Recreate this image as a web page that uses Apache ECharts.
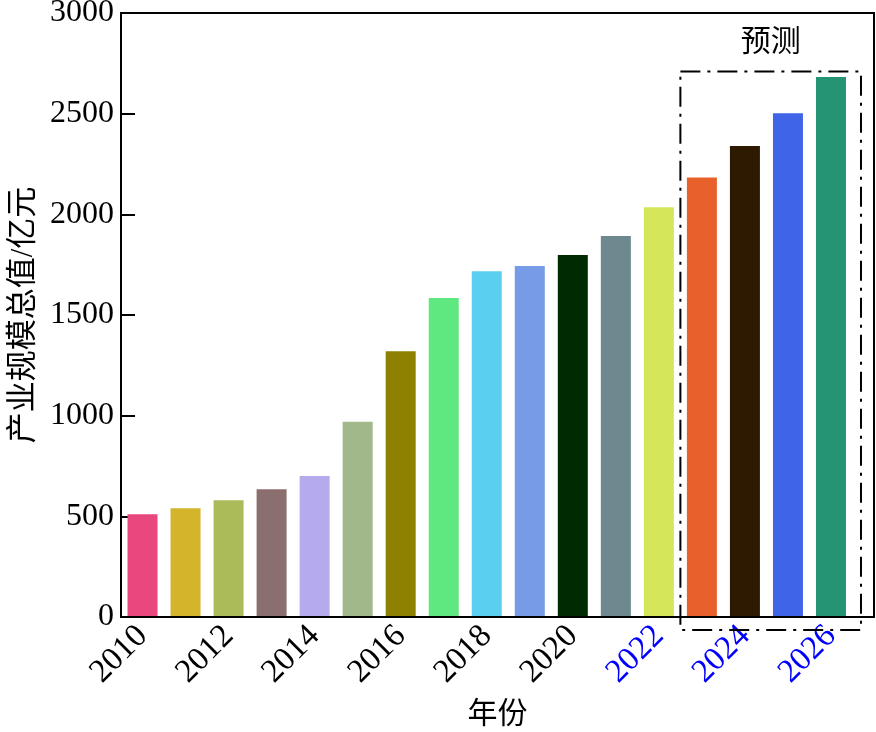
<!DOCTYPE html>
<html><head><meta charset="utf-8">
<script src="https://cdn.jsdelivr.net/npm/echarts@6/dist/echarts.min.js"></script>
<style>html,body{margin:0;padding:0;background:#fff}#c{width:876px;height:732px}</style>
</head><body><div id="c"></div>
<script>
const years = ['2010','2011','2012','2013','2014','2015','2016','2017','2018','2019','2020','2021','2022','2023','2024','2025','2026'];
const values = [510, 540, 580, 635, 700, 970, 1320, 1585, 1717, 1743, 1798, 1892, 2035, 2183, 2340, 2502, 2682];
const barColors = ['#E8487E','#D4B42A','#ABBB5A','#8B6E6E','#B4AAEC','#A0B88A','#8E8000','#5FE880','#5BCFEF','#779BE6','#002B00','#6E8890','#D5E65A','#E8602A','#2E1A00','#4064E8','#259474'];
const blueLabels = ['2022','2024','2026'];
const yTicks = {min: 0, max: 3000, interval: 500};
const forecastStart = '2023';
const forecastTop = 2710;
const forecastText = '预测';
const xName = '年份';
const yName = '产业规模总值/亿元';

const FONT = "'Liberation Serif', 'Times New Roman', 'Noto Sans CJK SC', serif";
const chart = echarts.init(document.getElementById('c'), null, {renderer: 'canvas'});
const G = {left: 121, top: 13, right: 23.5, bottom: 115};
const frameRight = 874;

chart.setOption({
  animation: false,
  grid: {left: G.left, top: G.top, right: G.right, bottom: G.bottom, containLabel: false, outerBoundsMode: 'none'},
  xAxis: {
    type: 'category', data: years, boundaryGap: true,
    axisLine: {lineStyle: {color: '#000', width: 2}},
    axisTick: {inside: true, length: 12, alignWithLabel: true, interval: 0, lineStyle: {color: '#000', width: 2}},
    axisLabel: {
      interval: 1, rotate: 45, margin: 14, fontFamily: FONT, fontSize: 33,
      color: function (v) { return blueLabels.indexOf(v) >= 0 ? '#0000FF' : '#000'; }
    },
    splitLine: {show: false}
  },
  yAxis: {
    type: 'value', min: yTicks.min, max: yTicks.max, interval: yTicks.interval,
    name: yName, nameLocation: 'middle', nameGap: 82,
    nameTextStyle: {fontFamily: FONT, fontSize: 31, color: '#000'},
    axisLine: {show: true, lineStyle: {color: '#000', width: 2}},
    axisTick: {show: true, inside: true, length: 14, lineStyle: {color: '#000', width: 2}},
    axisLabel: {margin: 7, fontFamily: FONT, fontSize: 32, color: '#000', formatter: function (v) { return String(v); }},
    splitLine: {show: false}
  },
  series: [{
    type: 'bar', barWidth: 30,
    data: values.map((v, i) => ({value: v, itemStyle: {color: barColors[i]}}))
  }]
});

const p0 = chart.convertToPixel({seriesIndex: 0}, [0, 0]);
const bottomY = p0[1];
const topY = chart.convertToPixel({seriesIndex: 0}, [0, yTicks.max])[1];
const fi = years.indexOf(forecastStart);
const xa = chart.convertToPixel({xAxisIndex: 0}, years[fi - 1]);
const xb = chart.convertToPixel({xAxisIndex: 0}, years[fi]);
const xl = chart.convertToPixel({xAxisIndex: 0}, years[years.length - 1]);
const boxLeft = (xa + xb) / 2;
const boxRight = xl + 30;
const boxTop = chart.convertToPixel({yAxisIndex: 0}, forecastTop);
const boxBottom = bottomY + 13;

chart.setOption({
  graphic: [
    {type: 'rect', shape: {x: G.left, y: topY, width: frameRight - G.left, height: bottomY - topY},
     style: {fill: null, stroke: '#000', lineWidth: 2}, z: 10, silent: true},
    {type: 'rect', shape: {x: boxLeft, y: boxTop, width: boxRight - boxLeft, height: boxBottom - boxTop},
     style: {fill: null, stroke: '#000', lineWidth: 2, lineDash: [20, 7, 3, 7]}, z: 10, silent: true},
    {type: 'text', x: (boxLeft + boxRight) / 2, y: boxTop - 28,
     style: {text: forecastText, font: '30px ' + FONT, fill: '#000', align: 'center', verticalAlign: 'middle'}},
    {type: 'text', x: (G.left + frameRight) / 2, y: 715,
     style: {text: xName, font: '30px ' + FONT, fill: '#000', align: 'center', verticalAlign: 'middle'}}
  ]
});
</script></body></html>
